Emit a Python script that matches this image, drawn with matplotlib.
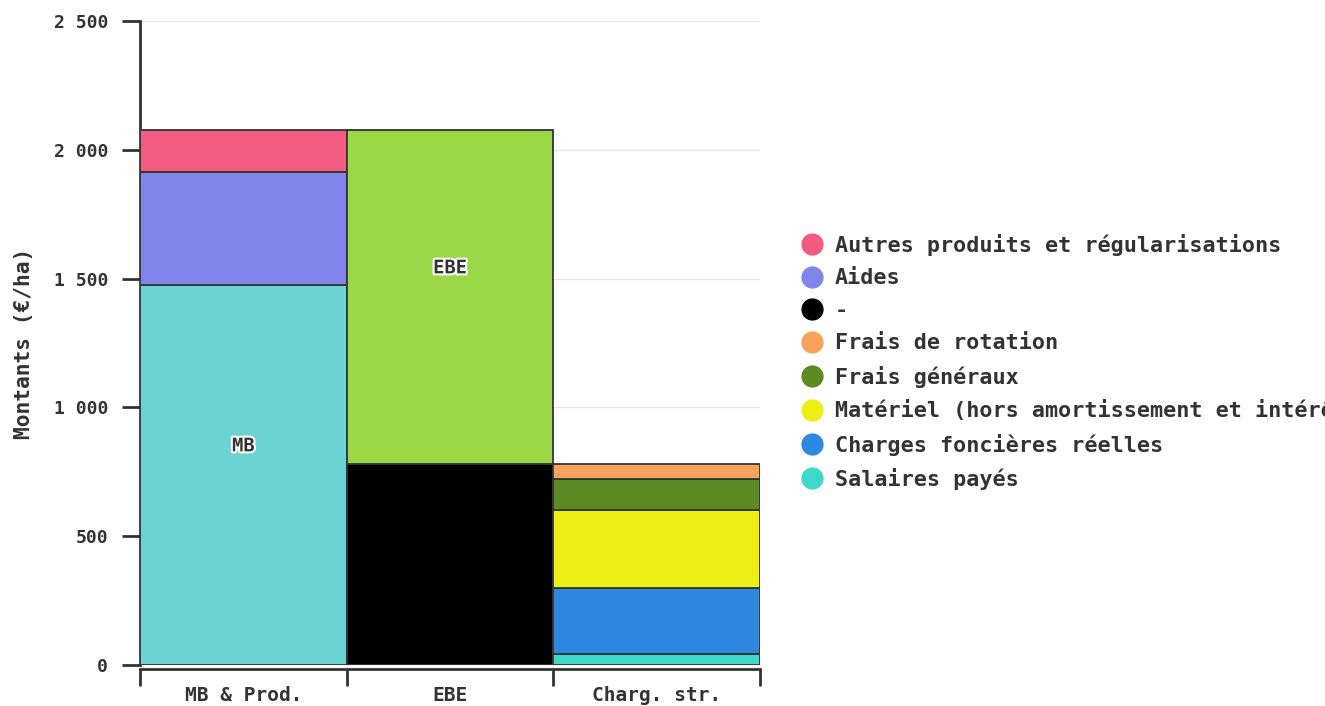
import numpy as np
import matplotlib
matplotlib.use('Agg')
import matplotlib.pyplot as plt
import matplotlib.patheffects as pe
from matplotlib.lines import Line2D

# catégories (colonnes) et libellés
categories = ['MB & Prod.', 'EBE', 'Charg. str.']

# segments empilés : (colonne, valeur, couleur, libellé légende, étiquette dans la barre)
seg_col = [0, 0, 0, 1, 1, 2, 2, 2, 2, 2]
seg_val = [1475, 439, 163, 780, 1297, 43, 256, 303, 120, 58]
seg_color = ['#6bd3d1', '#8085e9', '#f15c80', '#000000', '#9ad847',
             '#3dd8c8', '#2e88e0', '#eeee15', '#5d8a22', '#f7a35c']
seg_text = ['MB', '', '', '', 'EBE', '', '', '', '', '']

legend_labels = ['Autres produits et régularisations', 'Aides', '-',
                 'Frais de rotation', 'Frais généraux',
                 'Matériel (hors amortissement et intérêts)',
                 'Charges foncières réelles', 'Salaires payés']
legend_colors = ['#f15c80', '#8085e9', '#000000', '#f7a35c', '#5d8a22',
                 '#eeee15', '#2e88e0', '#3dd8c8']

plt.rcParams['font.family'] = ['DejaVu Sans Mono', 'DejaVu Sans']
plt.rcParams['font.weight'] = 'bold'
txt = '#333333'

fig = plt.figure(figsize=(13.25, 7.06), dpi=100)
ax = fig.add_axes([140/1325, 1-665/706, 620/1325, 644/706])

bottoms = np.zeros(len(categories))
for c, v, col, t in zip(seg_col, seg_val, seg_color, seg_text):
    ax.bar(c, v, width=1.0, bottom=bottoms[c], color=col,
           edgecolor='#333333', linewidth=1.3, zorder=3)
    if t:
        ax.annotate(t, (c, bottoms[c] + v/2), xytext=(0, 21),
                    textcoords='offset points', ha='center', va='center',
                    fontsize=13.5, fontweight='bold', color='#333333', zorder=5,
                    path_effects=[pe.withStroke(linewidth=3, foreground='white')])
    bottoms[c] += v

ax.set_xlim(-0.5, len(categories)-0.5)
ax.set_ylim(0, 2500)
ax.set_yticks(np.arange(0, 2501, 500))
ax.set_yticklabels(['{:,}'.format(int(v)).replace(',', ' ') for v in np.arange(0, 2501, 500)])
ax.yaxis.grid(True, color='#e6e6e6', linewidth=1, zorder=0)

# ticks aux frontières, libellés au centre
ax.set_xticks(np.arange(len(categories)+1) - 0.5)
ax.set_xticklabels([])
ax.set_xticks(np.arange(len(categories)), minor=True)
ax.set_xticklabels(categories, minor=True)
ax.tick_params(axis='x', which='minor', length=0, pad=12, labelsize=14, labelcolor=txt)
ax.tick_params(axis='x', which='major', length=12, width=2, color='#333333')
ax.tick_params(axis='y', length=13, width=2, color='#333333', pad=10,
               labelsize=13, labelcolor=txt)

for s in ['top', 'right']:
    ax.spines[s].set_visible(False)
ax.spines['left'].set_linewidth(2)
ax.spines['left'].set_color('#333333')
ax.spines['bottom'].set_linewidth(2)
ax.spines['bottom'].set_color('#333333')
ax.spines['bottom'].set_position(('outward', 3))

ax.set_ylabel('Montants (€/ha)', fontsize=15.3, fontweight='bold', color=txt, labelpad=14)

handles = [Line2D([], [], marker='o', linestyle='', markersize=15,
                  markerfacecolor=c, markeredgecolor=c) for c in legend_colors]
fig.legend(handles, legend_labels, loc='center left',
           bbox_to_anchor=(801/1325, 1-362/706), frameon=False,
           prop={'size': 15.7, 'weight': 'bold'}, labelcolor=txt,
           handlelength=1, handletextpad=0.55,
           borderpad=0, borderaxespad=0, labelspacing=0.57)

plt.savefig('out.png', dpi=100)
